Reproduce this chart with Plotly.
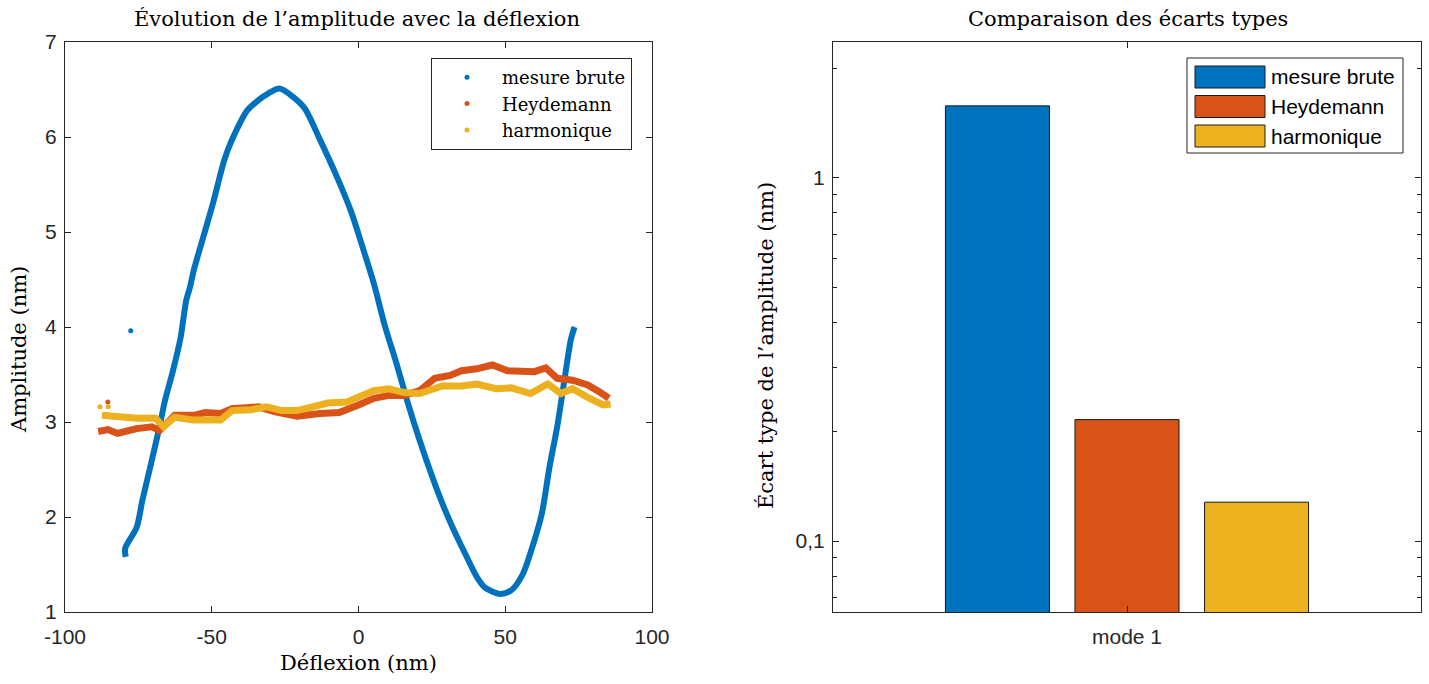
import plotly.graph_objects as go

# ---------------- data ----------------
# mesure brute (blue)
brute_x = [-79.3, -79.5, -75.6, -73.6, -70.4, -67.8, -65.9, -63.3, -60.6, -58.7, -57.4, -56.1,
           -52.2, -49.6, -45.7, -43.1, -37.9, -34.0, -30.7, -26.9, -22.2, -18.3, -13.1, -7.9,
           -2.7, 1.3, 5.2, 9.1, 13.0, 16.9, 20.8, 24.7, 28.6, 32.5, 36.4, 40.3, 43.0, 48.2,
           52.1, 56.0, 59.9, 62.5, 65.1, 67.7, 70.3, 72.3, 73.6]
brute_y = [1.58, 1.67, 1.89, 2.18, 2.60, 2.95, 3.23, 3.53, 3.89, 4.28, 4.42, 4.60,
           5.02, 5.30, 5.76, 5.97, 6.28, 6.39, 6.46, 6.51, 6.42, 6.30, 5.97, 5.62,
           5.23, 4.85, 4.46, 4.00, 3.61, 3.19, 2.81, 2.46, 2.14, 1.86, 1.61, 1.37, 1.26, 1.19,
           1.23, 1.40, 1.75, 2.04, 2.53, 2.95, 3.47, 3.86, 4.00]
brute_outlier_x = [-77.6]
brute_outlier_y = [3.96]

heyd_x = [-88.7, -85.4, -82.1, -75.6, -70.4, -67.8, -62.6, -56.1, -52.2, -47.0, -43.1, -34.0,
          -28.7, -20.9, -13.1, -6.6, 0.0, 5.2, 10.4, 15.6, 20.8, 26.0, 31.2, 35.1, 40.3,
          45.6, 50.8, 56.0, 59.9, 63.8, 67.7, 72.9, 78.1, 82.0, 85.3]
heyd_y = [2.90, 2.92, 2.88, 2.93, 2.95, 2.91, 3.07, 3.07, 3.10, 3.09, 3.14, 3.16,
          3.11, 3.06, 3.09, 3.10, 3.18, 3.25, 3.28, 3.28, 3.33, 3.46, 3.49, 3.54, 3.56,
          3.60, 3.54, 3.53, 3.53, 3.57, 3.46, 3.44, 3.39, 3.32, 3.25]
heyd_outlier_x = [-85.4]
heyd_outlier_y = [3.21]

harm_x = [-87.4, -82.1, -75.6, -69.1, -66.5, -62.6, -56.1, -47.0, -43.1, -36.5, -31.3, -26.1,
          -20.9, -15.7, -10.5, -3.9, 0.0, 5.2, 10.4, 15.6, 20.8, 28.6, 35.1, 40.3, 46.9,
          52.1, 58.6, 64.5, 69.0, 72.9, 78.1, 83.3, 85.9]
harm_y = [3.07, 3.05, 3.04, 3.04, 2.95, 3.05, 3.02, 3.02, 3.12, 3.13, 3.16, 3.12,
          3.12, 3.16, 3.20, 3.21, 3.26, 3.33, 3.35, 3.31, 3.30, 3.38, 3.38, 3.40, 3.35,
          3.36, 3.30, 3.40, 3.30, 3.35, 3.26, 3.18, 3.19]
harm_outlier_x = [-88.1, -85.3]
harm_outlier_y = [3.16, 3.16]

categories = ["mode 1"]
std_brute = [1.577]
std_heyd = [0.216]
std_harm = [0.128]

series_names = ["mesure brute", "Heydemann", "harmonique"]
colors = ["#0072BD", "#D95319", "#EDB120"]

x_ticks = [-100, -50, 0, 50, 100]
x_ticktext = ["-100", "-50", "0", "50", "100"]
y_ticks = [1, 2, 3, 4, 5, 6, 7]
log_ticks = [0.1, 1]
log_ticktext = ["0,1", "1"]
log_minor = [0.07, 0.08, 0.09, 0.2, 0.3, 0.4, 0.5, 0.6, 0.7, 0.8, 0.9, 2.0]

W, H = 1429, 684
SERIF = "DejaVu Serif, serif"
SANS = "Liberation Sans, Arial, sans-serif"
AX = "#262626"

fig = go.Figure()

line_sets = [(brute_x, brute_y, brute_outlier_x, brute_outlier_y, "spline"),
             (heyd_x, heyd_y, heyd_outlier_x, heyd_outlier_y, "linear"),
             (harm_x, harm_y, harm_outlier_x, harm_outlier_y, "linear")]
for name, col, (lx, ly, ox, oy, shp) in zip(series_names, colors, line_sets):
    fig.add_trace(go.Scatter(x=lx, y=ly, mode="lines",
                             line=dict(color=col, width=6 if shp == "spline" else 7, shape=shp, smoothing=0.8),
                             showlegend=False, xaxis="x", yaxis="y", hoverinfo="skip"))
    fig.add_trace(go.Scatter(x=ox, y=oy, mode="markers", marker=dict(color=col, size=5),
                             name=name, legend="legend", xaxis="x", yaxis="y"))

for name, col, vals in zip(series_names, colors, [std_brute, std_heyd, std_harm]):
    fig.add_trace(go.Bar(x=categories, y=vals, name=name, showlegend=False,
                         marker=dict(color=col, line=dict(color="#1a1a1a", width=1)),
                         xaxis="x2", yaxis="y2"))

def px(x):
    return x / W

def py(y):
    return 1 - y / H

common = dict(showline=True, linecolor=AX, linewidth=1, mirror="ticks", ticks="inside",
              tickcolor=AX, ticklen=6, showgrid=False, zeroline=False, automargin=False,
              tickfont=dict(family=SANS, size=21, color=AX))

fig.update_layout(
    width=W, height=H, margin=dict(l=0, r=0, t=0, b=0),
    paper_bgcolor="white", plot_bgcolor="white",
    xaxis=dict(domain=[px(65), px(652)], range=[-100, 100], tickvals=x_ticks, ticktext=x_ticktext,
               anchor="y", ticklabelstandoff=6, **common),
    yaxis=dict(domain=[py(612), py(42)], range=[1, 7], tickvals=y_ticks,
               anchor="x", ticklabelstandoff=3, **common),
    xaxis2=dict(domain=[px(833), px(1421)], anchor="y2", type="category", ticklabelstandoff=6, **common),
    yaxis2=dict(domain=[py(612), py(42)], anchor="x2", type="log", range=[-1.195, 0.3736],
                tickvals=log_ticks, ticktext=log_ticktext, ticklabelstandoff=3,
                minor=dict(ticks="inside", ticklen=4, tickcolor=AX, tickvals=log_minor), **common),
    barmode="group", bargap=0.339, bargroupgap=0.197,
    legend=dict(x=px(632), y=py(58), xanchor="right", yanchor="top",
                bordercolor=AX, borderwidth=1, bgcolor="white",
                font=dict(family=SERIF, size=18, color="#000"), itemwidth=60, tracegroupgap=0),
    showlegend=True,
)

# bar legend (box with wide colour swatches, as in the reference)
shapes = [dict(type="rect", xref="paper", yref="paper", x0=px(1187), x1=px(1403), y0=py(153), y1=py(58),
               line=dict(color=AX, width=1), fillcolor="white", layer="above")]
ann = []
for i, (name, col) in enumerate(zip(series_names, colors)):
    yc = 77 + i * 29.5
    shapes.append(dict(type="rect", xref="paper", yref="paper", x0=px(1195), x1=px(1265),
                       y0=py(yc + 11), y1=py(yc - 11), line=dict(color="#1a1a1a", width=1),
                       fillcolor=col, layer="above"))
    ann.append(dict(text=name, x=px(1269), y=py(yc), xanchor="left", yanchor="middle",
                    font=dict(family=SANS, size=21, color="#000")))

ann += [
    dict(text="Évolution de l’amplitude avec la déflexion", x=px(357), y=py(19), font=dict(family=SERIF, size=21, color="#000")),
    dict(text="Déflexion (nm)", x=px(358), y=py(663), font=dict(family=SERIF, size=21, color="#000")),
    dict(text="Amplitude (nm)", x=px(19), y=py(350), textangle=-90, font=dict(family=SERIF, size=21, color="#000")),
    dict(text="Comparaison des écarts types", x=px(1128), y=py(19), font=dict(family=SERIF, size=21, color="#000")),
    dict(text="Écart type de l’amplitude (nm)", x=px(766), y=py(346), textangle=-90, font=dict(family=SERIF, size=21, color="#000")),
]
for a in ann:
    a.setdefault("xanchor", "center")
    a.setdefault("yanchor", "middle")
    a.update(xref="paper", yref="paper", showarrow=False)
fig.update_layout(annotations=ann, shapes=shapes)

fig.write_html("out.html", config={"displayModeBar": False},
               post_script="document.body.style.margin='0';document.body.style.overflow='hidden';")
